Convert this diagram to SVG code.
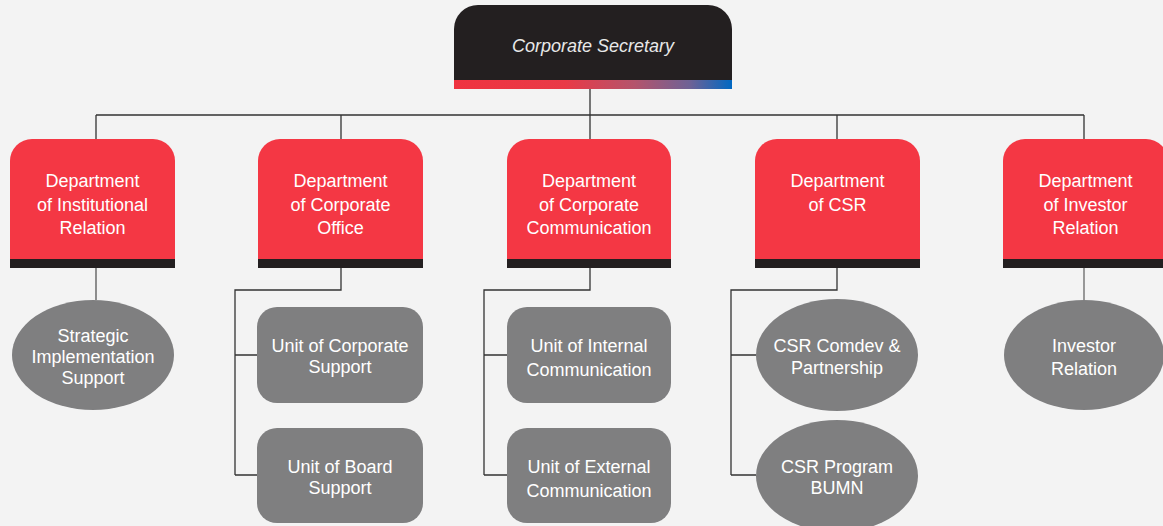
<svg xmlns="http://www.w3.org/2000/svg" width="1163" height="526" viewBox="0 0 1163 526">
<style>
text{font-family:"Liberation Sans",Arial,sans-serif;font-size:18px;fill:#ffffff;text-anchor:middle}
.top{font-style:italic;fill:#e8e8e8}
.dept{fill:#f43744}
.bar{fill:#231f20}
.unit{fill:#7f7f80}
.conn{fill:none;stroke:#333;stroke-width:1.3}
</style>
<defs>
<linearGradient id="g" x1="0" y1="0" x2="1" y2="0">
<stop offset="0" stop-color="#ef3340"/>
<stop offset="0.4" stop-color="#e93a47"/>
<stop offset="0.65" stop-color="#b4546c"/>
<stop offset="0.85" stop-color="#6d6296"/>
<stop offset="1" stop-color="#0068c2"/>
</linearGradient>
</defs>
<rect width="1163" height="526" fill="#f3f3f3"/>
<g id="connectors" class="conn">
<path d="M590 89V115M96 115H1084M96 115V139M341 115V139M590 115V139M837 115V139M1084 115V139"/>
<path d="M96 268V300" stroke="#555"/>
<path d="M341 268V290H235V475M235 355H257M235 475H257"/>
<path d="M590 268V290H484V475M484 355H507M484 475H507"/>
<path d="M837 268V290H731V475M731 355H756M731 475H756"/>
<path d="M1084 268V300" stroke="#666"/>
</g>
<g id="corporate-secretary">
<path d="M454 80V29A24 24 0 0 1 478 5H708A24 24 0 0 1 732 29V80Z" fill="#231f20"/>
<rect x="454" y="80" width="278" height="9" fill="url(#g)"/>
<text class="top" x="593" y="52">Corporate Secretary</text>
</g>
<g id="dept-institutional">
<path class="dept" d="M10 259V161A22 22 0 0 1 32 139H153A22 22 0 0 1 175 161V259Z"/>
<rect class="bar" x="10" y="259" width="165" height="9"/>
<text x="92.5" y="187">Department</text>
<text x="92.5" y="211">of Institutional</text>
<text x="92.5" y="234">Relation</text>
</g>
<g id="dept-corporate-office">
<path class="dept" d="M258 259V161A22 22 0 0 1 280 139H401A22 22 0 0 1 423 161V259Z"/>
<rect class="bar" x="258" y="259" width="165" height="9"/>
<text x="340.5" y="187">Department</text>
<text x="340.5" y="211">of Corporate</text>
<text x="340.5" y="234">Office</text>
</g>
<g id="dept-corporate-communication">
<path class="dept" d="M507 259V161A22 22 0 0 1 529 139H649A22 22 0 0 1 671 161V259Z"/>
<rect class="bar" x="507" y="259" width="164" height="9"/>
<text x="589" y="187">Department</text>
<text x="589" y="211">of Corporate</text>
<text x="589" y="234">Communication</text>
</g>
<g id="dept-csr">
<path class="dept" d="M755 259V161A22 22 0 0 1 777 139H898A22 22 0 0 1 920 161V259Z"/>
<rect class="bar" x="755" y="259" width="165" height="9"/>
<text x="837.5" y="187">Department</text>
<text x="837.5" y="211">of CSR</text>
</g>
<g id="dept-investor">
<path class="dept" d="M1003 259V161A22 22 0 0 1 1025 139H1146A22 22 0 0 1 1168 161V259Z"/>
<rect class="bar" x="1003" y="259" width="165" height="9"/>
<text x="1085.5" y="187">Department</text>
<text x="1085.5" y="211">of Investor</text>
<text x="1085.5" y="234">Relation</text>
</g>
<g id="strategic-implementation">
<ellipse class="unit" cx="93" cy="355" rx="81" ry="55"/>
<text x="93" y="342">Strategic</text>
<text x="93" y="363">Implementation</text>
<text x="93" y="384">Support</text>
</g>
<g id="unit-corporate-support">
<rect class="unit" x="257" y="307" width="166" height="96" rx="20"/>
<text x="340" y="352">Unit of Corporate</text>
<text x="340" y="373">Support</text>
</g>
<g id="unit-board-support">
<rect class="unit" x="257" y="428" width="166" height="95" rx="20"/>
<text x="340" y="473">Unit of Board</text>
<text x="340" y="494">Support</text>
</g>
<g id="unit-internal-communication">
<rect class="unit" x="507" y="307" width="164" height="96" rx="20"/>
<text x="589" y="352">Unit of Internal</text>
<text x="589" y="376">Communication</text>
</g>
<g id="unit-external-communication">
<rect class="unit" x="507" y="428" width="164" height="95" rx="20"/>
<text x="589" y="473">Unit of External</text>
<text x="589" y="497">Communication</text>
</g>
<g id="csr-comdev">
<ellipse class="unit" cx="837" cy="355" rx="81" ry="56"/>
<text x="837" y="352">CSR Comdev &amp;</text>
<text x="837" y="374">Partnership</text>
</g>
<g id="csr-program">
<ellipse class="unit" cx="837" cy="476" rx="81" ry="56"/>
<text x="837" y="473">CSR Program</text>
<text x="837" y="494">BUMN</text>
</g>
<g id="investor-relation">
<ellipse class="unit" cx="1084" cy="355" rx="80" ry="55"/>
<text x="1084" y="352">Investor</text>
<text x="1084" y="375">Relation</text>
</g>
</svg>
